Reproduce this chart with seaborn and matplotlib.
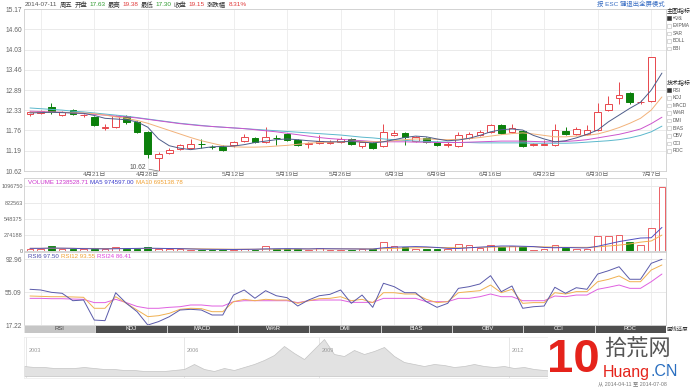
import numpy as np
import matplotlib
matplotlib.use("Agg")
import matplotlib.pyplot as plt
import seaborn as sns
from matplotlib.patches import Rectangle

sns.set_theme(style="white")
plt.rcParams['font.family'] = ['Liberation Sans', 'Noto Sans CJK SC', 'DejaVu Sans']
plt.rcParams['axes.unicode_minus'] = False

W, H = 690, 387

# ---------------- data ----------------
days = ['04-11', '04-14', '04-15', '04-16', '04-17', '04-18', '04-21', '04-22', '04-23', '04-24',
        '04-25', '04-28', '04-29', '04-30', '05-05', '05-06', '05-07', '05-08', '05-09', '05-12',
        '05-13', '05-14', '05-15', '05-16', '05-19', '05-20', '05-21', '05-22', '05-23', '05-26',
        '05-27', '05-28', '05-29', '05-30', '06-03', '06-04', '06-05', '06-06', '06-09', '06-10',
        '06-11', '06-12', '06-13', '06-16', '06-17', '06-18', '06-19', '06-20', '06-23', '06-24',
        '06-25', '06-26', '06-27', '06-30', '07-01', '07-02', '07-03', '07-04', '07-07', '07-08']

opens = [12.22, 12.25, 12.41, 12.19, 12.33, 12.18, 12.13, 11.84, 11.85, 12.16,
         11.99, 11.71, 10.99, 11.13, 11.24, 11.27, 11.38, 11.30, 11.30, 11.35,
         11.46, 11.54, 11.43, 11.55, 11.66, 11.49, 11.39, 11.40, 11.42, 11.43,
         11.52, 11.32, 11.40, 11.32, 11.63, 11.68, 11.46, 11.54, 11.43, 11.36,
         11.32, 11.54, 11.63, 11.71, 11.91, 11.71, 11.74, 11.36, 11.36, 11.35,
         11.74, 11.66, 11.66, 11.77, 12.33, 12.67, 12.81, 12.55, 12.58]
highs = [12.30, 12.33, 12.52, 12.30, 12.36, 12.23, 12.16, 11.94, 12.18, 12.19,
         12.02, 11.74, 11.15, 11.27, 11.38, 11.52, 11.52, 11.35, 11.35, 11.47,
         11.66, 11.57, 11.85, 11.63, 11.69, 11.52, 11.43, 11.63, 11.49, 11.57,
         11.55, 11.46, 11.43, 11.94, 11.77, 11.71, 11.60, 11.57, 11.46, 11.43,
         11.71, 11.71, 11.77, 11.94, 11.94, 11.94, 11.77, 11.40, 11.49, 11.94,
         11.85, 11.85, 11.91, 12.53, 12.73, 13.11, 12.84, 12.61, 13.82]
lows = [12.17, 12.22, 12.22, 12.16, 12.19, 12.14, 11.89, 11.77, 11.83, 11.95,
        11.68, 10.98, 10.62, 11.10, 11.22, 11.25, 11.26, 11.24, 11.19, 11.30,
        11.44, 11.41, 11.41, 11.35, 11.46, 11.32, 11.26, 11.37, 11.38, 11.40,
        11.35, 11.27, 11.24, 11.29, 11.60, 11.35, 11.43, 11.40, 11.32, 11.30,
        11.29, 11.52, 11.60, 11.68, 11.66, 11.68, 11.29, 11.32, 11.35, 11.32,
        11.63, 11.63, 11.63, 11.74, 12.30, 12.50, 12.50, 12.50, 12.56]
closes = [12.27, 12.30, 12.27, 12.27, 12.22, 12.19, 11.91, 11.86, 12.16, 11.99,
          11.71, 11.09, 11.10, 11.21, 11.35, 11.37, 11.37, 11.29, 11.22, 11.43,
          11.57, 11.43, 11.57, 11.54, 11.49, 11.35, 11.40, 11.46, 11.43, 11.52,
          11.38, 11.43, 11.26, 11.71, 11.68, 11.57, 11.57, 11.43, 11.35, 11.37,
          11.63, 11.66, 11.71, 11.91, 11.68, 11.82, 11.32, 11.37, 11.37, 11.77,
          11.66, 11.80, 11.77, 12.27, 12.50, 12.75, 12.56, 12.57, 13.82]

ma5 = [12.25, 12.26, 12.27, 12.26, 12.25, 12.24, 12.18, 12.10, 12.08, 12.06,
       12.00, 11.85, 11.52, 11.33, 11.26, 11.22, 11.26, 11.30, 11.31, 11.32,
       11.36, 11.42, 11.46, 11.50, 11.52, 11.50, 11.47, 11.45, 11.44, 11.44,
       11.45, 11.43, 11.41, 11.44, 11.50, 11.56, 11.60, 11.58, 11.52, 11.47,
       11.49, 11.54, 11.62, 11.72, 11.78, 11.80, 11.77, 11.62, 11.52, 11.44,
       11.47, 11.55, 11.65, 11.77, 12.00, 12.19, 12.38, 12.55, 12.89, 13.37]
ma10 = [12.27, 12.27, 12.27, 12.27, 12.26, 12.25, 12.23, 12.19, 12.14, 12.10,
        12.04, 11.96, 11.86, 11.76, 11.66, 11.56, 11.47, 11.40, 11.33, 11.30,
        11.29, 11.29, 11.30, 11.32, 11.34, 11.37, 11.40, 11.42, 11.43, 11.44,
        11.45, 11.45, 11.44, 11.45, 11.47, 11.50, 11.52, 11.52, 11.51, 11.50,
        11.51, 11.53, 11.56, 11.60, 11.64, 11.67, 11.69, 11.66, 11.62, 11.58,
        11.58, 11.60, 11.62, 11.66, 11.74, 11.84, 11.96, 12.10, 12.33, 12.70]
ma20 = [12.30, 12.29, 12.28, 12.27, 12.25, 12.23, 12.21, 12.19, 12.16, 12.14,
        12.11, 12.07, 12.03, 11.99, 11.95, 11.92, 11.89, 11.87, 11.85, 11.83,
        11.81, 11.78, 11.75, 11.72, 11.68, 11.64, 11.60, 11.56, 11.53, 11.51,
        11.49, 11.47, 11.45, 11.44, 11.44, 11.44, 11.43, 11.43, 11.42, 11.42,
        11.42, 11.43, 11.44, 11.45, 11.46, 11.46, 11.46, 11.45, 11.44, 11.44,
        11.45, 11.47, 11.50, 11.55, 11.60, 11.65, 11.72, 11.80, 11.95, 12.13]
ma60 = [12.39, 12.37, 12.35, 12.33, 12.30, 12.28, 12.25, 12.22, 12.19, 12.16,
        12.12, 12.08, 12.04, 12.00, 11.96, 11.93, 11.90, 11.87, 11.85, 11.83,
        11.81, 11.79, 11.77, 11.75, 11.73, 11.71, 11.69, 11.67, 11.65, 11.63,
        11.60, 11.57, 11.55, 11.52, 11.50, 11.48, 11.46, 11.45, 11.44, 11.43,
        11.42, 11.42, 11.41, 11.41, 11.41, 11.41, 11.41, 11.40, 11.40, 11.40,
        11.40, 11.41, 11.43, 11.45, 11.47, 11.50, 11.55, 11.62, 11.72, 11.88]

volume = [40000, 40000, 85000, 35000, 30000, 32000, 35000, 35000, 67000, 35000,
          35000, 65000, 30000, 30000, 30000, 25000, 25000, 25000, 25000, 25000,
          40000, 25000, 80000, 30000, 35000, 35000, 25000, 50000, 25000, 25000,
          25000, 40000, 30000, 150000, 85000, 75000, 40000, 30000, 30000, 40000,
          115000, 100000, 55000, 100000, 70000, 80000, 70000, 25000, 40000, 100000,
          50000, 40000, 40000, 255000, 255000, 265000, 155000, 110000, 385000, 1090000]
vol_ma5 = [45000, 45000, 50000, 48000, 45000, 40000, 38000, 36000, 38000, 42000,
           44000, 48000, 45000, 42000, 40000, 35000, 30000, 28000, 27000, 26000,
           28000, 30000, 35000, 38000, 40000, 38000, 35000, 40000, 38000, 36000,
           35000, 34000, 33000, 55000, 65000, 70000, 75000, 70000, 60000, 45000,
           42000, 55000, 65000, 75000, 85000, 85000, 80000, 75000, 60000, 55000,
           60000, 55000, 52000, 80000, 120000, 160000, 190000, 220000, 225000, 400000]
vol_ma10 = [45000, 45000, 46000, 46000, 45000, 44000, 43000, 42000, 42000, 42000,
            42000, 43000, 43000, 42000, 40000, 38000, 36000, 34000, 32000, 30000,
            30000, 30000, 31000, 32000, 33000, 34000, 35000, 36000, 37000, 37000,
            36000, 35000, 35000, 40000, 45000, 50000, 55000, 58000, 60000, 58000,
            55000, 58000, 62000, 65000, 68000, 70000, 72000, 72000, 70000, 65000,
            62000, 62000, 62000, 70000, 85000, 100000, 120000, 150000, 170000, 270000]

rsi6 = [58.2, 57.4, 54.7, 53.6, 45.1, 45.9, 22.9, 22.2, 54.3, 42.1,
        32.5, 17.2, 21.1, 26.7, 34.4, 35.2, 34.4, 28.7, 28.7, 51.6,
        57.4, 47.9, 56.6, 50.8, 48.6, 39.0, 45.9, 50.8, 52.4, 57.4,
        42.1, 51.6, 37.5, 65.1, 61.2, 54.3, 54.3, 44.0, 37.5, 42.1,
        59.3, 61.2, 64.3, 73.8, 55.4, 62.0, 36.4, 38.2, 39.0, 60.5,
        53.6, 60.0, 58.2, 75.7, 79.5, 84.1, 69.7, 69.7, 88.0, 92.6]
rsi12 = [50.5, 50.1, 49.7, 49.7, 49.4, 49.0, 36.4, 36.4, 49.7, 42.1,
         34.4, 26.8, 27.9, 30.6, 35.2, 36.4, 36.0, 32.5, 32.5, 44.0,
         46.7, 45.1, 46.7, 45.9, 45.9, 42.1, 45.1, 47.4, 47.8, 49.7,
         45.1, 46.7, 42.9, 54.3, 54.3, 52.8, 52.8, 46.7, 42.9, 44.0,
         54.3, 55.5, 56.6, 63.1, 54.3, 58.2, 42.1, 42.9, 42.9, 54.3,
         52.8, 55.5, 55.5, 66.9, 69.6, 73.5, 66.9, 66.9, 80.3, 86.1]
rsi24 = [47.8, 47.8, 47.4, 47.4, 47.0, 46.7, 42.9, 42.9, 46.7, 42.9,
         38.5, 36.4, 36.4, 37.5, 38.2, 40.2, 40.2, 39.0, 39.0, 44.0,
         45.1, 45.1, 45.1, 45.1, 45.1, 42.9, 45.1, 45.9, 45.9, 45.9,
         43.2, 43.2, 43.2, 47.8, 47.8, 47.8, 47.8, 44.0, 44.0, 44.0,
         47.8, 47.8, 49.7, 52.8, 49.7, 49.7, 45.1, 45.1, 45.1, 50.5,
         49.7, 51.6, 51.6, 58.2, 60.5, 63.1, 59.3, 59.3, 66.9, 75.7]

price_ticks = [10.62, 11.19, 11.76, 12.33, 12.89, 13.46, 14.03, 14.60, 15.17]
vol_ticks = [0, 274188, 548375, 822563, 1096750]
rsi_ticks = [17.22, 55.09, 92.96]
date_labels = {'04-21': '4月21日', '04-28': '4月28日', '05-12': '5月12日', '05-19': '5月19日',
               '05-26': '5月26日', '06-03': '6月3日', '06-09': '6月9日', '06-16': '6月16日',
               '06-23': '6月23日', '06-30': '6月30日', '07-07': '7月7日'}
grid_days = ['04-14'] + list(date_labels)

header = [('2014-07-11', '#555555'), ('周五', '#333333'), ('开盘', '#333333'), ('17.63', '#2e9a2e'),
          ('最高', '#333333'), ('19.38', '#e03a3a'), ('最低', '#333333'), ('17.30', '#2e9a2e'),
          ('收盘', '#333333'), ('19.15', '#e03a3a'), ('涨跌幅', '#333333'), ('8.31%', '#e03a3a')]
vol_info = [('VOLUME 1238528.71', '#cc33cc'), ('MA5 974597.00', '#3a3acc'), ('MA10 695138.78', '#f0a030')]
rsi_info = [('RSI6 97.50', '#4a4aaa'), ('RSI12 93.55', '#f0a030'), ('RSI24 86.41', '#dd44dd')]
main_ind = ['均线', 'EXPMA', 'SAR', 'BOLL', 'BBI']
tech_ind = ['RSI', 'KDJ', 'MACD', 'W%R', 'DMI', 'BIAS', 'OBV', 'CCI', 'ROC']

# long history strip at the bottom (2003 - 2014)
nav_values = [10, 9, 9, 8, 8, 8, 9, 8, 7, 7,
              6, 6, 5, 5, 5, 6, 7, 12, 7, 5,
              8, 6, 9, 12, 16, 21, 30, 23, 17, 27,
              37, 22, 20, 26, 22, 25, 29, 20, 14, 12,
              10, 12, 11, 9, 10, 12, 10, 9, 10, 8,
              9, 7, 6, 5, 6, 5, 5, 4, 5, 4,
              4, 5, 5, 6]
nav_years = {'2003': 0.2, '2006': 16.0, '2009': 29.5, '2012': 48.5}

RED = '#e8474c'
GREEN = '#0b800b'
XMIN, XMAX = -0.56, 59.38

fig = plt.figure(figsize=(W / 100, H / 100), dpi=100)
fig.patch.set_facecolor('white')


def px_axes(x0, y0, x1, y1):
    return fig.add_axes([x0 / W, 1 - y1 / H, (x1 - x0) / W, (y1 - y0) / H])


def style_panel(ax, size=4.8):
    for s in ax.spines.values():
        s.set_color('#cfcfcf')
        s.set_linewidth(0.6)
    ax.tick_params(axis='both', length=0, labelsize=size, labelcolor='#666666', pad=1.6)
    ax.set_xlim(XMIN, XMAX)
    for d in grid_days:
        ax.axvline(days.index(d), color='#ebebeb', lw=0.6, zorder=0)
    ax.set_xlabel('')
    ax.set_ylabel('')


# -------- main price panel --------
ax = px_axes(24, 9, 666, 171)
n = len(closes)
xc = np.arange(n)
up = [c >= o for o, c in zip(opens, closes)]
colors = [RED if u else GREEN for u in up]
ax.vlines(xc, lows, highs, colors=colors, lw=0.7, zorder=2)
bottoms = [min(o, c) for o, c in zip(opens, closes)]
heights = [max(abs(c - o), 0.004) for o, c in zip(opens, closes)]
ax.bar(xc, heights, bottom=bottoms, width=0.62,
       color=['white' if u else GREEN for u in up], edgecolor=colors, linewidth=0.7, zorder=3)

xa = np.arange(len(days))
for vals, col in [(ma60, '#5bb8cc'), (ma20, '#cc55cc'), (ma10, '#f2b27a'), (ma5, '#4e5d8a')]:
    sns.lineplot(x=xa, y=vals, ax=ax, color=col, linewidth=0.7, legend=False, zorder=4)

ax.set_ylim(10.62, 15.17)
ax.set_yticks(price_ticks)
ax.set_yticklabels([f'{v:.2f}' for v in price_ticks])
for v in price_ticks:
    ax.axhline(v, color='#e6e6e6', lw=0.6, zorder=0)
ax.set_xticks([days.index(d) for d in date_labels])
ax.set_xticklabels(list(date_labels.values()))
style_panel(ax)
ax.tick_params(axis='x', labelsize=4.6, pad=0.8)
low_i = int(np.argmin(lows))
ax.annotate(f'{lows[low_i]:.2f}', xy=(low_i, lows[low_i]), xytext=(low_i - 1.2, 10.73),
            fontsize=4.8, color='#555555', ha='right', va='center',
            arrowprops=dict(arrowstyle='-', color='#777777', lw=0.5, shrinkA=0, shrinkB=0))

# -------- volume panel --------
axv = px_axes(24, 178, 666, 251)
vol_up = up + [True]  # 07-08 bar is red in the screenshot
vcol = [RED if u else GREEN for u in vol_up]
axv.bar(xa, volume, width=0.62, color=['white' if u else GREEN for u in vol_up],
        edgecolor=vcol, linewidth=0.6, zorder=3)
sns.lineplot(x=xa, y=vol_ma10, ax=axv, color='#f0b050', linewidth=0.7, legend=False, zorder=4)
sns.lineplot(x=xa, y=vol_ma5, ax=axv, color='#5050c0', linewidth=0.7, legend=False, zorder=4)
axv.set_ylim(0, 1238528.71)
axv.set_yticks(vol_ticks)
axv.set_yticklabels([str(v) for v in vol_ticks])
for v in vol_ticks:
    axv.axhline(v, color='#e6e6e6', lw=0.6, zorder=0)
axv.set_xticks([])
style_panel(axv, size=4.0)
axv.tick_params(axis='y', pad=1.0)

# -------- RSI panel --------
axr = px_axes(24, 252, 666, 325)
for vals, col in [(rsi24, '#e060e0'), (rsi12, '#f0b050'), (rsi6, '#5a5aaa')]:
    sns.lineplot(x=xa, y=vals, ax=axr, color=col, linewidth=0.7, legend=False, zorder=4)
axr.set_ylim(17.22, 101.0)
axr.set_yticks(rsi_ticks)
axr.set_yticklabels([f'{v:.2f}' for v in rsi_ticks])
for v in rsi_ticks:
    axr.axhline(v, color='#e6e6e6', lw=0.6, zorder=0)
axr.set_xticks([])
style_panel(axr)

# -------- indicator tab bar --------
axt = px_axes(24, 325, 666, 333)
axt.set_xlim(0, len(tech_ind))
axt.set_ylim(0, 1)
axt.set_axis_off()
for i, name in enumerate(tech_ind):
    axt.add_patch(Rectangle((i, 0), 1, 1, facecolor='#c6c6c6' if i == 0 else '#4f4f4f',
                            edgecolor='#e8e8e8', lw=0.5))
    axt.text(i + 0.5, 0.5, name, ha='center', va='center', fontsize=4.2,
             color='#444444' if i == 0 else 'white')
fig.text(667 / W, 1 - 329 / H, '画线还原', fontsize=3.9, color='#333333', va='center')

# -------- history strip --------
axn = px_axes(24, 337, 666, 378)
xn = np.arange(len(nav_values))
axn.fill_between(xn, nav_values, 0, color='#e2e2e2', edgecolor='#c4c4c4', lw=0.5)
axn.set_xlim(0, 64.2)
axn.set_ylim(-2, 39)
for lab, pos in nav_years.items():
    axn.axvline(pos, color='#dddddd', lw=0.5, zorder=0)
    axn.text(pos + 0.3, 26, lab, fontsize=4, color='#9a9a9a', va='center')
axn.set_xticks([])
axn.set_yticks([])
for s in axn.spines.values():
    s.set_color('#ececec')
    s.set_linewidth(0.5)

# -------- texts around the chart --------
renderer = fig.canvas.get_renderer()


def text_row(parts, x0, y, size, gap):
    x = x0
    for txt, col in parts:
        t = fig.text(x / W, 1 - y / H, txt, color=col, fontsize=size, va='center', ha='left')
        x += t.get_window_extent(renderer).width + gap


text_row(header, 25, 4.5, 4.6, 2.2)
text_row(vol_info, 28, 183, 4.4, 2.0)
text_row(rsi_info, 28, 256, 4.4, 2.0)
fig.text(665 / W, 1 - 3.5 / H, '按 ESC 键退出全屏模式', fontsize=4.6, color='#3a6fc4',
         ha='right', va='center')


def indicator_list(title, items, y0):
    fig.text(667 / W, 1 - y0 / H, title, fontsize=4.3, color='#222222', va='center')
    for k, name in enumerate(items):
        y = y0 + 8 + 7.6 * k
        checked = k == 0
        fig.add_artist(Rectangle((667 / W, 1 - (y + 2) / H), 3.6 / W, 3.6 / H, transform=fig.transFigure,
                                 facecolor='#333333' if checked else 'white',
                                 edgecolor='#333333' if checked else '#bbbbbb', lw=0.4))
        fig.text(672.5 / W, 1 - y / H, name, fontsize=3.5, color='#555555', va='center')


indicator_list('主图指标', main_ind, 10)
indicator_list('技术指标', tech_ind, 82)

# site watermark at the bottom right
fig.add_artist(Rectangle((548 / W, 1 - 381 / H), 118 / W, 45 / H, transform=fig.transFigure,
                         facecolor='white', edgecolor='none', zorder=2))
fig.text(547 / W, 1 - 360 / H, '10', fontsize=34, fontweight='bold', color='#e5231b',
         va='center', zorder=3)
fig.text(604 / W, 1 - 350 / H, '拾荒网', fontsize=16, color='#555555', va='center', zorder=3)
t = fig.text(603 / W, 1 - 372 / H, 'Huang', fontsize=11.5, color='#e5231b', va='center', zorder=3)
fig.text((603 + t.get_window_extent(renderer).width) / W, 1 - 372 / H, '.CN', fontsize=11.5,
         color='#2a6fc0', va='center', zorder=3)
fig.text(667 / W, 1 - 384 / H, '从 2014-04-11 至 2014-07-08', fontsize=3.8, color='#777777',
         ha='right', va='center', zorder=3)

fig.savefig('out.png', dpi=100, facecolor='white')
